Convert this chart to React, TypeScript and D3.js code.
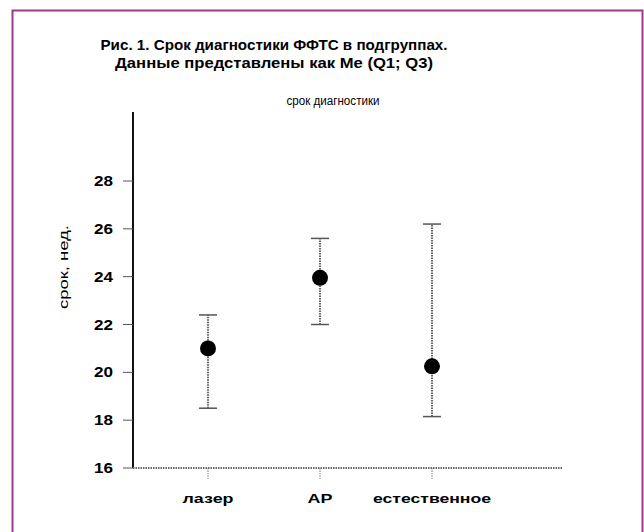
import React from "react";
import * as d3 from "d3";

const categories = ["лазер", "АР", "естественное"];
const catLabelWidths = [51, 25, 118];
const medians = [21.0, 23.95, 20.25];
const q1 = [18.5, 22.0, 18.15];
const q3 = [22.4, 25.6, 26.2];
const yTicks = [16, 18, 20, 22, 24, 26, 28];

const W = 644,
  H = 532;

export default function App() {
  const y = d3.scaleLinear().domain([16, 28]).range([468, 181]);
  const x = d3.scalePoint().domain(categories).range([208, 432]);
  const axisX = 133;
  const font = "'Liberation Sans', Arial, sans-serif";
  const data = categories.map((c, i) => ({ c, me: medians[i], lo: q1[i], hi: q3[i] }));

  return (
    <div style={{ position: "absolute", left: 0, top: 0 }}>
      <svg width={W} height={H} style={{ display: "block", background: "#fff" }} fontFamily={font}>
        {/* frame */}
        <path d={`M12.5,${H} V10.5 H642.5 V${H}`} fill="none" stroke="#9c3a89" strokeWidth={2} />

        <text x={274} y={50} textAnchor="middle" fontSize={14} fontWeight="bold" textLength={347} lengthAdjust="spacingAndGlyphs">
          Рис. 1. Срок диагностики ФФТС в подгруппах.
        </text>
        <text x={274} y={68} textAnchor="middle" fontSize={14} fontWeight="bold" textLength={318} lengthAdjust="spacingAndGlyphs">
          Данные представлены как Me (Q1; Q3)
        </text>
        <text x={333} y={105} textAnchor="middle" fontSize={12.5} textLength={93} lengthAdjust="spacingAndGlyphs">
          срок диагностики
        </text>

        {/* y axis */}
        <line x1={axisX} x2={axisX} y1={y(16)} y2={y(30.88)} stroke="#111" strokeWidth={2} />
        {yTicks.map((t) => (
          <g key={t} transform={`translate(0,${y(t)})`}>
            <line x1={axisX - 10} x2={axisX} stroke="#555" strokeWidth={1} />
            <text x={113} dy="0.36em" textAnchor="end" fontSize={14} fontWeight="bold" textLength={19} lengthAdjust="spacingAndGlyphs">
              {t}
            </text>
          </g>
        ))}
        <text
          transform={`translate(68,267) rotate(-90)`}
          textAnchor="middle"
          fontSize={13}
          textLength={84}
          lengthAdjust="spacingAndGlyphs"
        >
          срок, нед.
        </text>

        {/* x axis */}
        <line x1={axisX} x2={563} y1={y(16)} y2={y(16)} stroke="#666" strokeWidth={2} strokeDasharray="1.5 1" />
        {categories.map((c, i) => (
          <g key={c} transform={`translate(${x(c)},0)`}>
            <line y1={y(16)} y2={y(16) + 11} stroke="#777" strokeWidth={1} strokeDasharray="1.5 1" />
            <text y={503} textAnchor="middle" fontSize={13.5} fontWeight="bold" textLength={catLabelWidths[i]} lengthAdjust="spacingAndGlyphs">
              {c}
            </text>
          </g>
        ))}

        {/* error bars and medians */}
        {data.map((d) => {
          const cx = x(d.c) as number;
          return (
            <g key={d.c}>
              <line x1={cx} x2={cx} y1={y(d.lo)} y2={y(d.hi)} stroke="#666" strokeWidth={2} strokeDasharray="1.5 1" />
              <line x1={cx - 9} x2={cx + 9} y1={y(d.hi)} y2={y(d.hi)} stroke="#555" strokeWidth={1.5} />
              <line x1={cx - 9} x2={cx + 9} y1={y(d.lo)} y2={y(d.lo)} stroke="#555" strokeWidth={1.5} />
              <circle cx={cx} cy={y(d.me)} r={8} fill="#000" />
            </g>
          );
        })}
      </svg>
    </div>
  );
}
